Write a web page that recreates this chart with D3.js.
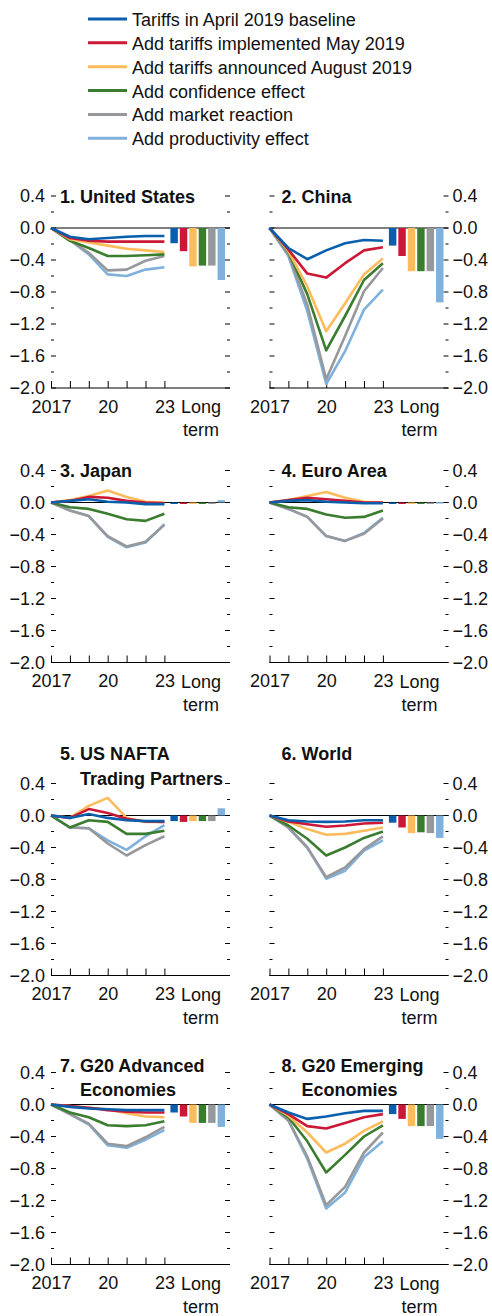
<!DOCTYPE html>
<html lang="en">
<head>
<meta charset="UTF-8">
<title>Tariff scenarios</title>
<script src="https://d3js.org/d3.v7.min.js"></script>
<style>
  body { margin: 0; background: #fff; }
  svg { display: block; font-family: "Liberation Sans", Arial, Helvetica, sans-serif; }
</style>
</head>
<body>
<svg width="492" height="1316"></svg>
<script>
// ---- data ----
const years = [2017, 2018, 2019, 2020, 2021, 2022, 2023];
const seriesNames = [
  "Tariffs in April 2019 baseline",
  "Add tariffs implemented May 2019",
  "Add tariffs announced August 2019",
  "Add confidence effect",
  "Add market reaction",
  "Add productivity effect"
];
const seriesColors = ["#0a5fad", "#cc1836", "#fdbb5b", "#3a7d2e", "#97989b", "#7fb1dc"];
const yTickValues = [0.4, 0.0, -0.4, -0.8, -1.2, -1.6, -2.0];

// each panel: one array per series (same order as seriesNames), plus long-term bars
const unitedStates = [
  [0, -0.11, -0.14, -0.125, -0.11, -0.10, -0.10],
  [0, -0.125, -0.16, -0.17, -0.17, -0.17, -0.17],
  [0, -0.14, -0.18, -0.22, -0.26, -0.28, -0.30],
  [0, -0.16, -0.25, -0.35, -0.35, -0.34, -0.33],
  [0, -0.15, -0.31, -0.53, -0.52, -0.41, -0.35],
  [0, -0.15, -0.33, -0.58, -0.60, -0.52, -0.49]
];
const unitedStatesLong = [-0.19, -0.29, -0.48, -0.47, -0.47, -0.65];

const china = [
  [0, -0.25, -0.39, -0.28, -0.19, -0.15, -0.16],
  [0, -0.27, -0.57, -0.62, -0.44, -0.28, -0.24],
  [0, -0.29, -0.73, -1.29, -0.94, -0.58, -0.38],
  [0, -0.30, -0.83, -1.53, -1.10, -0.65, -0.44],
  [0, -0.33, -0.96, -1.89, -1.35, -0.79, -0.50],
  [0, -0.35, -1.04, -1.95, -1.54, -1.02, -0.77]
];
const chinaLong = [-0.22, -0.35, -0.54, -0.54, -0.54, -0.93];

const japan = [
  [0, 0.02, 0.04, 0.01, 0.0, -0.02, -0.02],
  [0, 0.02, 0.07, 0.06, 0.02, 0.0, -0.01],
  [0, 0.03, 0.08, 0.15, 0.07, 0.01, 0.0],
  [0, -0.06, -0.08, -0.14, -0.21, -0.23, -0.14],
  [0, -0.10, -0.17, -0.42, -0.55, -0.49, -0.28],
  [0, -0.10, -0.17, -0.43, -0.56, -0.50, -0.27]
];
const japanLong = [-0.01, -0.01, -0.01, -0.01, -0.01, 0.03];

const euroArea = [
  [0, 0.02, 0.03, 0.01, 0.0, -0.01, -0.01],
  [0, 0.03, 0.06, 0.04, 0.02, 0.0, 0.0],
  [0, 0.03, 0.08, 0.13, 0.06, 0.01, 0.0],
  [0, -0.06, -0.08, -0.15, -0.19, -0.18, -0.10],
  [0, -0.08, -0.18, -0.42, -0.48, -0.39, -0.20],
  [0, -0.08, -0.18, -0.42, -0.48, -0.38, -0.19]
];
const euroAreaLong = [-0.005, 0, 0, 0, 0, 0.005];

const usNafta = [
  [0, -0.03, 0.02, -0.03, -0.06, -0.07, -0.07],
  [0, -0.03, 0.08, 0.03, -0.04, -0.075, -0.08],
  [0, -0.03, 0.12, 0.22, -0.03, -0.08, -0.08],
  [0, -0.15, -0.06, -0.08, -0.23, -0.23, -0.19],
  [0, -0.15, -0.16, -0.35, -0.50, -0.37, -0.26],
  [0, -0.15, -0.16, -0.31, -0.43, -0.26, -0.12]
];
const usNaftaLong = [-0.07, -0.08, -0.07, -0.07, -0.07, 0.09];

const world = [
  [0, -0.06, -0.075, -0.08, -0.075, -0.06, -0.06],
  [0, -0.075, -0.11, -0.14, -0.125, -0.10, -0.09],
  [0, -0.08, -0.17, -0.24, -0.23, -0.19, -0.15],
  [0, -0.125, -0.29, -0.50, -0.40, -0.28, -0.20],
  [0, -0.15, -0.40, -0.77, -0.65, -0.42, -0.26],
  [0, -0.15, -0.40, -0.79, -0.69, -0.44, -0.31]
];
const worldLong = [-0.09, -0.15, -0.22, -0.21, -0.22, -0.28];

const g20Advanced = [
  [0, -0.03, -0.05, -0.06, -0.07, -0.07, -0.07],
  [0, -0.02, -0.04, -0.07, -0.09, -0.10, -0.10],
  [0, -0.02, -0.04, -0.06, -0.11, -0.15, -0.16],
  [0, -0.10, -0.16, -0.26, -0.27, -0.26, -0.21],
  [0, -0.12, -0.24, -0.49, -0.52, -0.41, -0.28],
  [0, -0.12, -0.25, -0.51, -0.54, -0.44, -0.32]
];
const g20AdvancedLong = [-0.10, -0.15, -0.23, -0.23, -0.23, -0.28];

const g20Emerging = [
  [0, -0.10, -0.18, -0.15, -0.11, -0.08, -0.08],
  [0, -0.12, -0.27, -0.30, -0.23, -0.16, -0.12],
  [0, -0.14, -0.35, -0.60, -0.49, -0.33, -0.21],
  [0, -0.16, -0.46, -0.85, -0.63, -0.40, -0.26],
  [0, -0.20, -0.65, -1.26, -1.03, -0.60, -0.35],
  [0, -0.20, -0.68, -1.30, -1.10, -0.66, -0.46]
];
const g20EmergingLong = [-0.12, -0.18, -0.27, -0.27, -0.27, -0.43];

// ---- layout ----
const colX = [51, 269.5];
const plotW = 179;
const rowTop = [196, 470.5, 783.5, 1072.5];
const plotH = 192;
const fontSize = 18;

const panels = [
  { title: ["1. United States"], titleDy: [6.5], lines: unitedStates, bars: unitedStatesLong, col: 0, row: 0 },
  { title: ["2. China"], titleDy: [6.5], lines: china, bars: chinaLong, col: 1, row: 0 },
  { title: ["3. Japan"], titleDy: [6.5], lines: japan, bars: japanLong, col: 0, row: 1 },
  { title: ["4. Euro Area"], titleDy: [6.5], lines: euroArea, bars: euroAreaLong, col: 1, row: 1 },
  { title: ["5. US NAFTA", "Trading Partners"], titleDy: [-23.5, 1], lines: usNafta, bars: usNaftaLong, col: 0, row: 2 },
  { title: ["6. World"], titleDy: [-23.5], lines: world, bars: worldLong, col: 1, row: 2 },
  { title: ["7. G20 Advanced", "Economies"], titleDy: [-0.5, 23.5], lines: g20Advanced, bars: g20AdvancedLong, col: 0, row: 3 },
  { title: ["8. G20 Emerging", "Economies"], titleDy: [-0.5, 23.5], lines: g20Emerging, bars: g20EmergingLong, col: 1, row: 3 }
];

const svg = d3.select("svg");
svg.append("rect").attr("width", 492).attr("height", 1316).attr("fill", "#fff");

// ---- legend ----
const legend = svg.append("g").attr("class", "legend");
seriesNames.forEach((name, i) => {
  const ly = 19 + i * 23.85;
  legend.append("line")
    .attr("x1", 88).attr("x2", 127)
    .attr("y1", ly).attr("y2", ly)
    .attr("stroke", seriesColors[i])
    .attr("stroke-width", 3);
  legend.append("text")
    .attr("x", 132).attr("y", ly + 7)
    .attr("font-size", fontSize)
    .attr("fill", "#111")
    .text(name);
});

const fmt = d3.format(".1f");

panels.forEach(p => {
  const x0 = colX[p.col], x1 = x0 + plotW;
  const top = rowTop[p.row];

  const x = d3.scaleLinear().domain([2017, 2023]).range([x0, x0 + 113.4]);
  const y = d3.scaleLinear().domain([0.4, -2.0]).range([top, top + plotH]);
  const xb = d3.scaleBand().domain(d3.range(6)).range([x(2023) + 6, x1 - 5]).paddingInner(0.21);

  const g = svg.append("g").attr("class", "panel");

  // y ticks on both sides, every 0.2
  d3.range(-10, 3).forEach(k => {
    const v = k / 5;
    const major = k % 2 === 0;
    const len = major ? 5 : 3;
    g.append("line").attr("x1", x0).attr("x2", x0 + len)
      .attr("y1", y(v)).attr("y2", y(v)).attr("stroke", "#000").attr("stroke-width", 1);
    g.append("line").attr("x1", x1 - len).attr("x2", x1)
      .attr("y1", y(v)).attr("y2", y(v)).attr("stroke", "#000").attr("stroke-width", 1);
  });

  // y labels on the outer side
  g.selectAll(".ylab")
    .data(yTickValues)
    .enter()
    .append("text")
    .attr("x", p.col === 0 ? x0 - 6 : x1 + 4)
    .attr("y", d => y(d))
    .attr("dy", "0.36em")
    .attr("text-anchor", p.col === 0 ? "end" : "start")
    .attr("font-size", fontSize)
    .attr("fill", "#111")
    .text(d => fmt(d));

  // zero line
  g.append("line").attr("x1", x0).attr("x2", x1)
    .attr("y1", y(0)).attr("y2", y(0))
    .attr("stroke", "#000").attr("stroke-width", 1.2);

  // x axis
  const axis = g.append("g")
    .attr("transform", `translate(0,${y(-2.0)})`)
    .call(d3.axisBottom(x).tickValues(years).tickSize(-7).tickPadding(12)
      .tickFormat(d => d === 2017 ? "2017" : d === 2020 ? "20" : d === 2023 ? "23" : ""));
  axis.attr("font-family", null).attr("font-size", null);
  axis.select(".domain").remove();
  axis.selectAll(".tick line").attr("stroke", "#000");
  axis.selectAll(".tick text")
    .attr("font-size", fontSize)
    .attr("fill", "#111");
  g.append("line").attr("x1", x0).attr("x2", x1)
    .attr("y1", y(-2.0)).attr("y2", y(-2.0))
    .attr("stroke", "#000").attr("stroke-width", 1.2);

  ["Long", "term"].forEach((t, i) => {
    g.append("text")
      .attr("x", x0 + 150).attr("y", y(-2.0) + 25 + i * 23)
      .attr("text-anchor", "middle")
      .attr("font-size", fontSize)
      .attr("fill", "#111")
      .text(t);
  });

  // long-term bars
  g.selectAll(".bar")
    .data(p.bars)
    .enter()
    .append("rect")
    .attr("x", (d, i) => xb(i))
    .attr("width", xb.bandwidth())
    .attr("y", d => Math.min(y(d), y(0)))
    .attr("height", d => Math.max(Math.abs(y(d) - y(0)), 1.5))
    .attr("fill", (d, i) => seriesColors[i]);

  // lines, last series drawn first
  const line = d3.line().x((d, i) => x(years[i])).y(d => y(d));
  d3.range(5, -1, -1).forEach(s => {
    g.append("path")
      .datum(p.lines[s])
      .attr("d", line)
      .attr("fill", "none")
      .attr("stroke", seriesColors[s])
      .attr("stroke-width", 2.6)
      .attr("stroke-linejoin", "round");
  });

  // title
  const titleX = p.col === 0 ? x0 + 9 : x0 + 12;
  p.title.forEach((t, i) => {
    g.append("text")
      .attr("x", i === 0 ? titleX : titleX + 20)
      .attr("y", top + p.titleDy[i])
      .attr("font-size", fontSize)
      .attr("font-weight", "bold")
      .attr("fill", "#111")
      .text(t);
  });
});
</script>
</body>
</html>
